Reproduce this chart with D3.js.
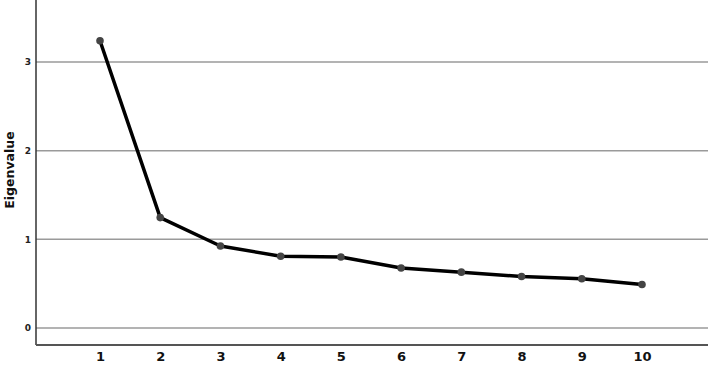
<!DOCTYPE html>
<html>
<head>
<meta charset="utf-8">
<style>
  body { margin: 0; background: #fff; }
  svg text { font-family: "DejaVu Sans", sans-serif; }
</style>
</head>
<body>
<div class="scree"></div>
<script src="https://cdn.jsdelivr.net/npm/d3@7"></script>
<script>
  // data
  const components = [1, 2, 3, 4, 5, 6, 7, 8, 9, 10]
  const eigenvalues = [3.24, 1.245, 0.925, 0.81, 0.80, 0.677, 0.63, 0.58, 0.556, 0.49]
  const yTicks = [0, 1, 2, 3]

  const width = 708,
        height = 366,
        left = 36,
        bottom = 345

  const svg = d3.select('.scree')
                .append('svg')
                .attr('width', width)
                .attr('height', height)

  // x: component number
  const xScale = d3.scaleLinear()
                   .domain([1, 10])
                   .range([100, 642])

  // y: eigenvalue
  const yScale = d3.scaleLinear()
                   .domain([0, 3])
                   .range([328, 62])

  // gridlines
  svg.append('g')
     .selectAll('line')
     .data(yTicks)
     .join('line')
     .attr('x1', left)
     .attr('x2', width)
     .attr('y1', d => yScale(d))
     .attr('y2', d => yScale(d))
     .attr('stroke', '#9a9a9a')
     .attr('stroke-width', 1.5)

  // y axis
  const yAxis = d3.axisLeft(yScale)
                  .tickValues(yTicks)
                  .tickFormat(d3.format('d'))
                  .tickSize(0)
                  .tickPadding(5)
  const yAxisGroup = svg.append('g')
                        .attr('transform', `translate(${left},0)`)
                        .call(yAxis)
  yAxisGroup.select('.domain').remove()
  yAxisGroup.selectAll('text')
            .attr('font-size', 9)
            .attr('font-weight', 'bold')
            .attr('fill', '#222')

  svg.append('line')
     .attr('x1', left).attr('x2', left)
     .attr('y1', 0).attr('y2', bottom)
     .attr('stroke', '#333')
     .attr('stroke-width', 1.5)

  // x axis
  const xAxis = d3.axisBottom(xScale)
                  .tickValues(components)
                  .tickFormat(d3.format('d'))
                  .tickSize(0)
                  .tickPadding(7)
  const xAxisGroup = svg.append('g')
                        .attr('transform', `translate(0,${bottom})`)
                        .call(xAxis)
  xAxisGroup.select('.domain').remove()
  xAxisGroup.selectAll('text')
            .attr('font-size', 13)
            .attr('font-weight', 'bold')
            .attr('fill', '#111')

  svg.append('line')
     .attr('x1', left).attr('x2', width)
     .attr('y1', bottom).attr('y2', bottom)
     .attr('stroke', '#555')
     .attr('stroke-width', 2)

  // y label
  svg.append('text')
     .attr('transform', `translate(14,170) rotate(-90)`)
     .attr('text-anchor', 'middle')
     .attr('font-size', 12.5)
     .attr('font-weight', 'bold')
     .attr('fill', '#111')
     .text('Eigenvalue')

  // line
  const pts = components.map((c, i) => [c, eigenvalues[i]])
  const line = d3.line()
                 .x(d => xScale(d[0]))
                 .y(d => yScale(d[1]))
  svg.append('path')
     .datum(pts)
     .attr('d', line)
     .attr('fill', 'none')
     .attr('stroke', '#000')
     .attr('stroke-width', 3.5)
     .attr('stroke-linejoin', 'round')

  // markers
  svg.selectAll('circle')
     .data(pts)
     .join('circle')
     .attr('cx', d => xScale(d[0]))
     .attr('cy', d => yScale(d[1]))
     .attr('r', 3.8)
     .attr('fill', '#444')
</script>
</body>
</html>
